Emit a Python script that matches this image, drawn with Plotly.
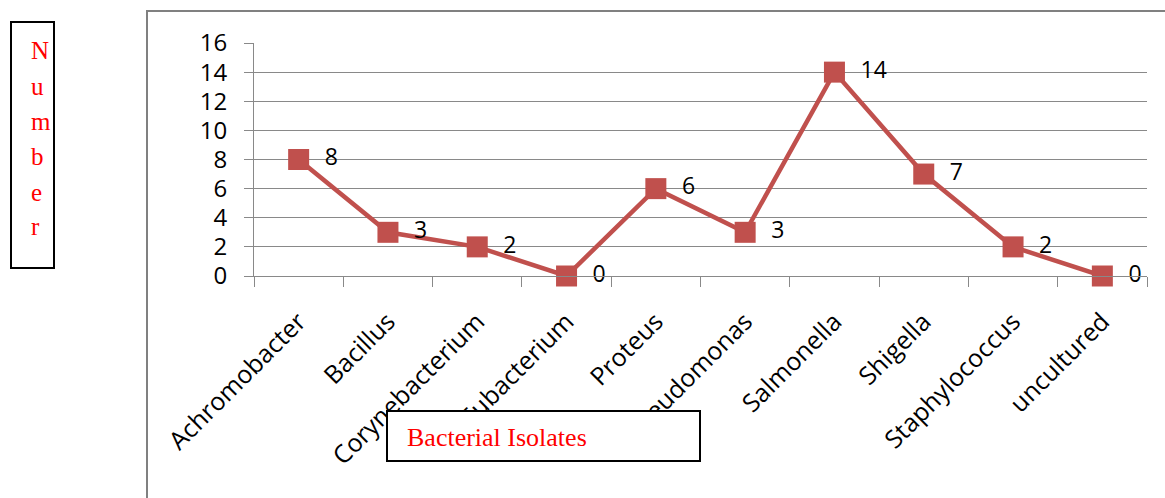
import plotly.graph_objects as go

categories = ["Achromobacter", "Bacillus", "Corynebacterium", "Eubacterium", "Proteus",
              "Pseudomonas", "Salmonella", "Shigella", "Staphylococcus", "uncultured"]
values = [8, 3, 2, 0, 6, 3, 14, 7, 2, 0]
y_ticks = [0, 2, 4, 6, 8, 10, 12, 14, 16]

W, H = 1165, 498
def px(x):
    return x / W
def py(y):
    return 1 - y / H

RED = "#C0504D"
GRID = "#898989"

fig = go.Figure()
fig.add_trace(go.Scatter(
    x=categories, y=values, mode="lines+markers+text",
    line=dict(color=RED, width=4.5),
    marker=dict(symbol="square", size=21, color=RED),
    text=["  " + str(v) for v in values], textposition="middle right",
    textfont=dict(family="Open Sans", size=23, color="#000000"),
    cliponaxis=False, showlegend=False, hoverinfo="skip",
))

fig.update_layout(
    width=W, height=H,
    margin=dict(l=0, r=0, t=0, b=0, autoexpand=False),
    paper_bgcolor="white", plot_bgcolor="white",
    xaxis=dict(
        domain=[px(254), px(1147)], range=[-0.5, 9.5], automargin=False,
        showgrid=False, showline=True, linecolor=GRID, linewidth=1,
        ticks="outside", tickson="boundaries", ticklen=10, tickcolor=GRID,
        tickangle=-45, tickfont=dict(family="Open Sans", size=25, color="#000000"),
        ticklabelstandoff=20,
    ),
    yaxis=dict(
        domain=[py(276), py(43)], range=[0, 16], tickvals=y_ticks, automargin=False,
        showgrid=True, gridcolor=GRID, gridwidth=1,
        showline=True, linecolor=GRID, linewidth=1,
        ticks="outside", ticklen=9, tickcolor=GRID,
        tickfont=dict(family="Open Sans", size=24, color="#000000"),
        ticklabelstandoff=12,
        zeroline=False,
    ),
    shapes=[
        dict(type="rect", xref="paper", yref="paper",
             x0=px(147), x1=1.02, y0=-0.02, y1=py(11),
             line=dict(color="#808080", width=2), layer="below"),
        dict(type="rect", xref="paper", yref="paper",
             x0=px(11), x1=px(54), y0=py(268), y1=py(22),
             line=dict(color="#000000", width=2)),
        dict(type="rect", xref="paper", yref="paper",
             x0=px(387), x1=px(700), y0=py(461), y1=py(411),
             line=dict(color="#000000", width=2), fillcolor="white", layer="above"),
    ],
)

letters = ["N", "u", "m", "b", "e", "r"]
letter_y = [50, 86, 121, 156, 192, 226]
for ch, yy in zip(letters, letter_y):
    fig.add_annotation(x=px(29), y=py(yy), xref="paper", yref="paper",
                       xanchor="left", yanchor="middle", text=ch, showarrow=False,
                       font=dict(family="Liberation Serif", size=25, color="#FF0000"))

fig.add_annotation(x=px(405), y=py(437), xref="paper", yref="paper",
                   xanchor="left", yanchor="middle", text="Bacterial Isolates",
                   showarrow=False,
                   font=dict(family="Liberation Serif", size=26, color="#FF0000"))

fig.write_html("out.html", config={"displayModeBar": False, "staticPlot": True},
               post_script="document.body.style.margin='0px';document.body.style.overflow='hidden';")
